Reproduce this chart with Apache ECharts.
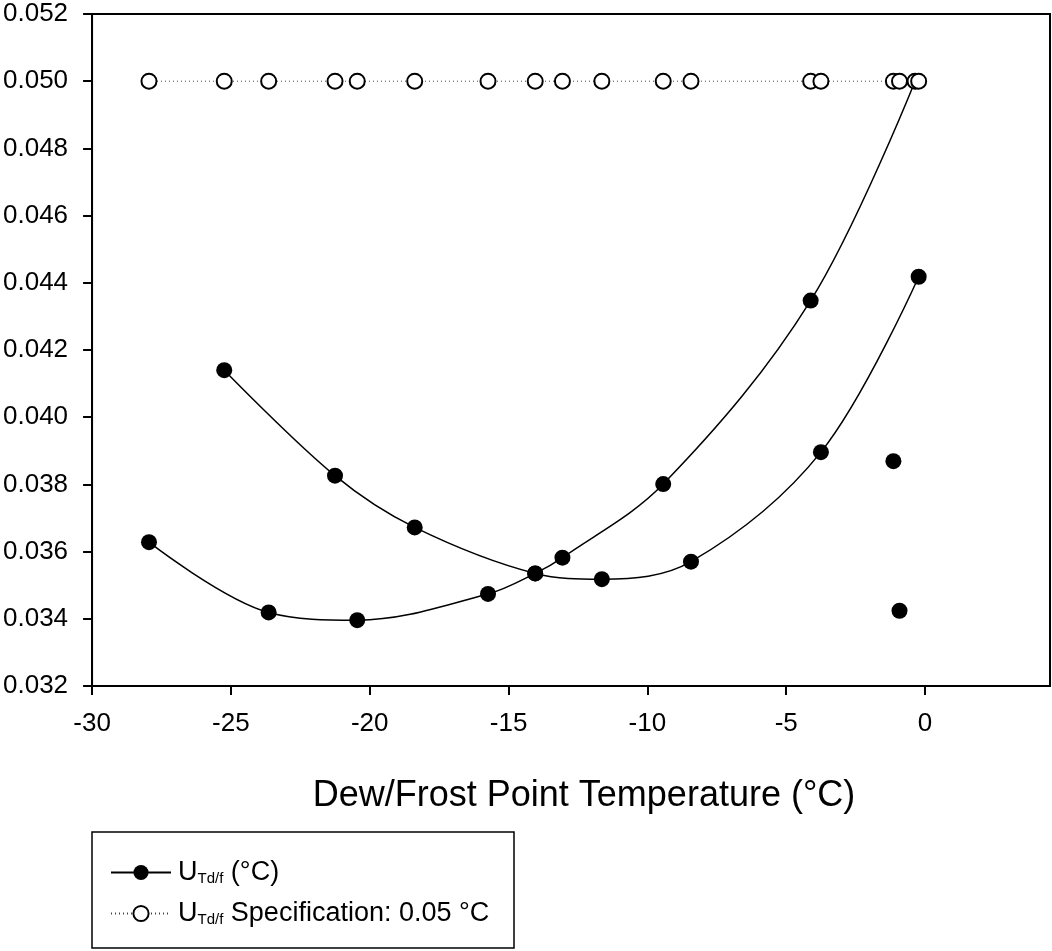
<!DOCTYPE html>
<html>
<head>
<meta charset="utf-8">
<script src="https://cdn.jsdelivr.net/npm/echarts@6/dist/echarts.min.js"></script>
<style>
  html, body { margin: 0; padding: 0; background: #fff; }
  #chart { width: 1052px; height: 951px; }
</style>
</head>
<body>
<div id="chart"></div>
<script>
// Axis ticks
const xTicks = [-30, -25, -20, -15, -10, -5, 0];
const yTicks = [0.032, 0.034, 0.036, 0.038, 0.040, 0.042, 0.044, 0.046, 0.048, 0.050, 0.052];

// Measurement run A (dew/frost point °C, uncertainty °C)
const runAx = [-27.95, -23.64, -20.45, -15.74, -14.04, -13.06, -9.43, -4.12, -0.36];
const runAy = [0.03628, 0.03419, 0.03396, 0.03474, 0.03535, 0.03582, 0.03801, 0.04347, 0.05000];

// Measurement run B
const runBx = [-25.24, -21.25, -18.38, -14.04, -11.64, -8.43, -3.75, -0.23];
const runBy = [0.04140, 0.03826, 0.03672, 0.03535, 0.03518, 0.03570, 0.03896, 0.04418];

// Single points near 0 °C
const singleX = [-1.14, -0.92];
const singleY = [0.03869, 0.03424];

// Specification limit at every measured temperature
const specX = [-27.95, -25.24, -23.64, -21.25, -20.45, -18.38, -15.74, -14.04, -13.06,
               -11.64, -9.43, -8.43, -4.12, -3.75, -1.14, -0.92, -0.36, -0.23];
const specLimit = 0.05;

const zip = (xs, ys) => xs.map((x, i) => [x, ys[i]]);

const FONT = 'Liberation Sans, Arial, sans-serif';
const filledStyle = { color: '#000', opacity: 1 };
const solidLine = { color: '#000', width: 1.5 };

const chart = echarts.init(document.getElementById('chart'), null, { renderer: 'canvas' });

chart.setOption({
  backgroundColor: '#fff',
  animation: false,
  grid: {
    left: 92, right: 2, top: 14, bottom: 265,
    show: true, borderColor: '#000', borderWidth: 2, backgroundColor: 'transparent'
  },
  xAxis: {
    type: 'value',
    min: -30, max: 4.5,
    axisLine: { show: true, onZero: false, lineStyle: { color: '#000', width: 2 } },
    axisTick: { show: true, inside: false, length: 9, lineStyle: { color: '#000', width: 2 }, customValues: xTicks },
    axisLabel: { customValues: xTicks, fontSize: 26, fontFamily: FONT, color: '#000', margin: 25,
                 formatter: v => String(v) },
    splitLine: { show: false },
    name: 'Dew/Frost Point Temperature (°C)',
    nameLocation: 'middle',
    nameGap: 92,
    nameTextStyle: { fontSize: 36, fontFamily: FONT, color: '#000', padding: [0, 0, 0, 26] }
  },
  yAxis: {
    type: 'value',
    min: 0.032, max: 0.052,
    axisLine: { show: true, onZero: false, lineStyle: { color: '#000', width: 2 } },
    axisTick: { show: true, inside: false, length: 9, lineStyle: { color: '#000', width: 2 }, customValues: yTicks },
    axisLabel: { customValues: yTicks, fontSize: 26, fontFamily: FONT, color: '#000', margin: 24,
                 formatter: v => v.toFixed(3) },
    splitLine: { show: false }
  },
  legend: {
    orient: 'vertical',
    left: 110, top: 859,
    padding: 0,
    itemGap: 14,
    itemWidth: 60, itemHeight: 19,
    data: ['utd', 'spec'],
    formatter: name => name === 'utd'
      ? '{g|}{u|U}{s|Td/f}{u| (°C)}'
      : '{g|}{u|U}{s|Td/f}{u| Specification: 0.05 °C}',
    textStyle: {
      color: '#000',
      rich: {
        g: { width: 2 },
        u: { fontSize: 27, fontFamily: FONT, color: '#000', lineHeight: 27 },
        s: { fontSize: 15, fontFamily: FONT, color: '#000', lineHeight: 6, verticalAlign: 'bottom' }
      }
    }
  },
  graphic: [{
    type: 'rect',
    shape: { x: 92, y: 832, width: 422, height: 116 },
    style: { fill: 'none', stroke: '#000', lineWidth: 1.5 },
    silent: true
  }],
  series: [
    {
      name: 'utd', type: 'line', data: zip(runAx, runAy),
      smooth: 0.35, symbol: 'circle', symbolSize: 16,
      itemStyle: filledStyle, lineStyle: solidLine, z: 2
    },
    {
      name: 'utd', type: 'line', data: zip(runBx, runBy),
      smooth: 0.35, symbol: 'circle', symbolSize: 16,
      itemStyle: filledStyle, lineStyle: solidLine, z: 2
    },
    {
      name: 'utd', type: 'scatter', data: zip(singleX, singleY),
      symbol: 'circle', symbolSize: 16, itemStyle: filledStyle, z: 2
    },
    {
      name: 'spec', type: 'line', data: specX.map(x => [x, specLimit]),
      symbol: 'circle', symbolSize: 15, showAllSymbol: true,
      itemStyle: { color: '#fff', borderColor: '#000', borderWidth: 2 },
      lineStyle: { color: '#444', width: 1, type: [1, 3] }, z: 4
    }
  ]
});
</script>
</body>
</html>
